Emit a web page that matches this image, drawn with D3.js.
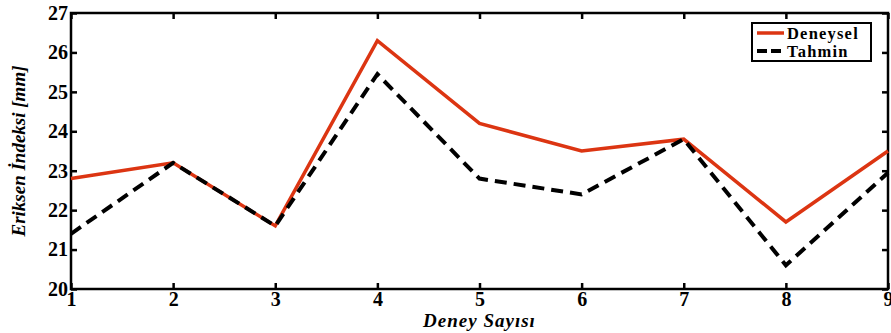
<!DOCTYPE html>
<html>
<head>
<meta charset="utf-8">
<script src="https://cdn.jsdelivr.net/npm/d3@7"></script>
<style>
    body { margin: 0; background: #fff; }
    svg text { font-family: "Liberation Serif", "Times New Roman", serif; }
</style>
</head>
<body>
<svg id="chart"></svg>
<script>
// data
const deneyNo = [1, 2, 3, 4, 5, 6, 7, 8, 9];
const deneysel = [22.8, 23.2, 21.6, 26.3, 24.2, 23.5, 23.8, 21.7, 23.5];
const tahmin = [21.4, 23.2, 21.6, 25.45, 22.8, 22.4, 23.8, 20.6, 22.95];
const yTicks = [20, 21, 22, 23, 24, 25, 26, 27];
const seriesNames = ['Deneysel', 'Tahmin'];

const width = 891, height = 333;
const margin = {top: 13, right: 3, bottom: 44, left: 71};

const svg = d3.select('#chart')
    .attr('width', width)
    .attr('height', height);

const x = d3.scaleLinear().domain([1, 9]).range([margin.left, width - margin.right]);
const y = d3.scaleLinear().domain([20, 27]).range([height - margin.bottom, margin.top]);

const tickLen = 6;

// Axes (ticks pointing inward)
const xAxis = svg.append('g')
    .attr('transform', `translate(0,${y(20)})`)
    .call(d3.axisBottom(x).tickValues(deneyNo).tickFormat(d3.format('d')).tickSizeInner(-tickLen).tickSizeOuter(0).tickPadding(2));
const yAxis = svg.append('g')
    .attr('transform', `translate(${x(1)},0)`)
    .call(d3.axisLeft(y).tickValues(yTicks).tickFormat(d3.format('d')).tickSizeInner(-tickLen).tickSizeOuter(0).tickPadding(3));
// top and right ticks, no labels
svg.append('g')
    .attr('transform', `translate(0,${y(27)})`)
    .call(d3.axisTop(x).tickValues(deneyNo).tickFormat('').tickSizeInner(-tickLen).tickSizeOuter(0));
svg.append('g')
    .attr('transform', `translate(${x(9)},0)`)
    .call(d3.axisRight(y).tickValues(yTicks).tickFormat('').tickSizeInner(-tickLen).tickSizeOuter(0));

svg.selectAll('.domain').remove();
svg.selectAll('.tick line').attr('stroke', '#000').attr('stroke-width', 2.5);
svg.selectAll('.tick text')
    .attr('fill', '#000')
    .style('font-size', '20px')
    .style('font-weight', 'bold');
xAxis.selectAll('.tick text').attr('dy', '0.75em');

// frame
svg.append('rect')
    .attr('x', x(1)).attr('y', y(27))
    .attr('width', x(9) - x(1)).attr('height', y(20) - y(27))
    .attr('fill', 'none').attr('stroke', '#000').attr('stroke-width', 2.5);

// Lines
const line = d3.line().x((d, i) => x(deneyNo[i])).y(d => y(d));

svg.append('path')
    .datum(deneysel)
    .attr('d', line)
    .attr('fill', 'none')
    .attr('stroke', '#dc3512')
    .attr('stroke-width', 3.5)
    .attr('stroke-linejoin', 'miter');

svg.append('path')
    .datum(tahmin)
    .attr('d', line)
    .attr('fill', 'none')
    .attr('stroke', '#000')
    .attr('stroke-width', 4)
    .attr('stroke-dasharray', '12,7');

// Axis titles
svg.append('text')
    .attr('x', (x(1) + x(9)) / 2)
    .attr('y', 327)
    .attr('text-anchor', 'middle')
    .style('font-size', '19px')
    .style('font-weight', 'bold')
    .style('font-style', 'italic')
    .style('letter-spacing', '1px')
    .text('Deney Sayısı');

svg.append('text')
    .attr('transform', `translate(25,${(y(20) + y(27)) / 2}) rotate(-90)`)
    .attr('text-anchor', 'middle')
    .style('font-size', '19px')
    .style('font-weight', 'bold')
    .style('font-style', 'italic')
    .text('Eriksen İndeksi [mm]');

// Legend
const legend = svg.append('g').attr('transform', 'translate(752,23)');
legend.append('rect')
    .attr('width', 119).attr('height', 38)
    .attr('fill', '#fff').attr('stroke', '#000').attr('stroke-width', 2);
const legendStyles = [
    {color: '#dc3512', dash: null, w: 3.5},
    {color: '#000', dash: '10,4', w: 4}
];
seriesNames.forEach((name, i) => {
    const ly = 10 + i * 18;
    legend.append('line')
        .attr('x1', 5).attr('x2', 32)
        .attr('y1', ly).attr('y2', ly)
        .attr('stroke', legendStyles[i].color)
        .attr('stroke-width', legendStyles[i].w)
        .attr('stroke-dasharray', legendStyles[i].dash);
    legend.append('text')
        .attr('x', 35).attr('y', ly + 5.5)
        .style('font-size', '16.5px')
        .style('font-weight', 'bold')
        .style('letter-spacing', '1.2px')
        .text(name);
});
</script>
</body>
</html>
